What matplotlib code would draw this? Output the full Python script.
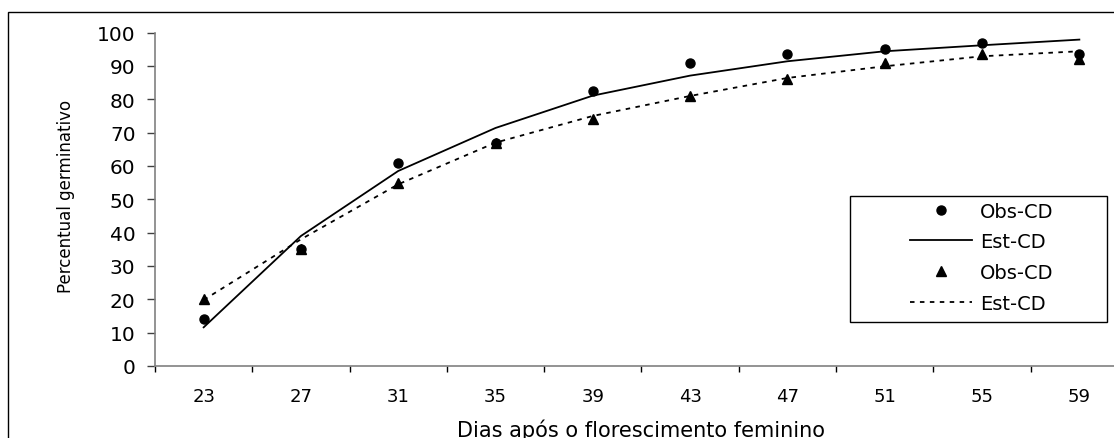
import matplotlib
matplotlib.use('Agg')
import matplotlib.pyplot as plt
from matplotlib.patches import Rectangle
from matplotlib.ticker import FixedLocator, NullFormatter
import numpy as np

# days after female flowering
dias = ['23', '27', '31', '35', '39', '43', '47', '51', '55', '59']
obs_circ = [14, 35, 61, 67, 82.5, 91, 93.5, 95, 97, 93.5]
est_solid = [11.6, 39, 58.5, 71.4, 81.1, 87.1, 91.4, 94.4, 96.2, 97.9]
obs_tri = [20, 35, 55, 67, 74, 81, 86, 91, 93.5, 92]
est_dash = [19.8, 38, 54.5, 67, 75, 81, 86.4, 89.9, 92.9, 94.4]

W, H = 1114, 439
fig = plt.figure(figsize=(W / 100, H / 100), dpi=100)
ax = fig.add_axes([155 / W, 72 / H, 973 / W, 333.4 / H])

x = np.arange(len(dias))
ax.plot(x, obs_circ, 'o', color='black', ms=6.5, label='Obs-CD')
ax.plot(x, est_solid, '-', color='black', lw=1.3, label='Est-CD')
ax.plot(x, obs_tri, '^', color='black', ms=7.5, label='Obs-CD')
ax.plot(x, est_dash, color='black', lw=1.3, linestyle=(0, (2.5, 3)), label='Est-CD')

ax.set_xlim(-0.5, len(dias) - 0.5)
ax.set_ylim(0, 100)
ax.set_yticks(np.arange(0, 101, 10))

# category axis: ticks between categories, labels at the centres
ax.xaxis.set_major_locator(FixedLocator(np.arange(-0.5, len(dias), 1)))
ax.xaxis.set_major_formatter(NullFormatter())
ax.xaxis.set_minor_locator(FixedLocator(x))
ax.set_xticklabels(dias, minor=True)
ax.tick_params(axis='x', which='major', direction='out', length=4.5, width=1, color='black')
ax.tick_params(axis='x', which='minor', length=0, pad=15, labelsize=13)
ax.tick_params(axis='y', direction='out', length=6, width=1, color='#404040', pad=8, labelsize=14.5)

for s in ['top', 'right']:
    ax.spines[s].set_visible(False)
for s in ['left', 'bottom']:
    ax.spines[s].set_color('#808080')
    ax.spines[s].set_linewidth(1.2)

ax.set_xlabel('Dias após o florescimento feminino', fontsize=15, va='baseline')
ax.xaxis.set_label_coords(0.5, -0.209)
ax.set_ylabel('Percentual germinativo', fontsize=12, va='center')
ax.yaxis.set_label_coords(-0.0915, 0.511)

leg = ax.legend(loc='center left', bbox_to_anchor=(910 / W, (H - 258) / H),
                bbox_transform=fig.transFigure, frameon=False, fontsize=14,
                handlelength=3.19, handletextpad=0.41, labelspacing=0.6,
                borderpad=0, borderaxespad=0)
# legend box
fig.patches.append(Rectangle((850 / W, (H - 323) / H), 257 / W, 126 / H,
                             transform=fig.transFigure, fill=False,
                             edgecolor='black', lw=1, zorder=5))
# outer chart border (left and top visible)
fig.patches.append(Rectangle((8 / W, -0.1), 1.2, (H - 13) / H + 0.1,
                             transform=fig.transFigure, fill=False,
                             edgecolor='black', lw=1))

fig.savefig('out.png', dpi=100)
